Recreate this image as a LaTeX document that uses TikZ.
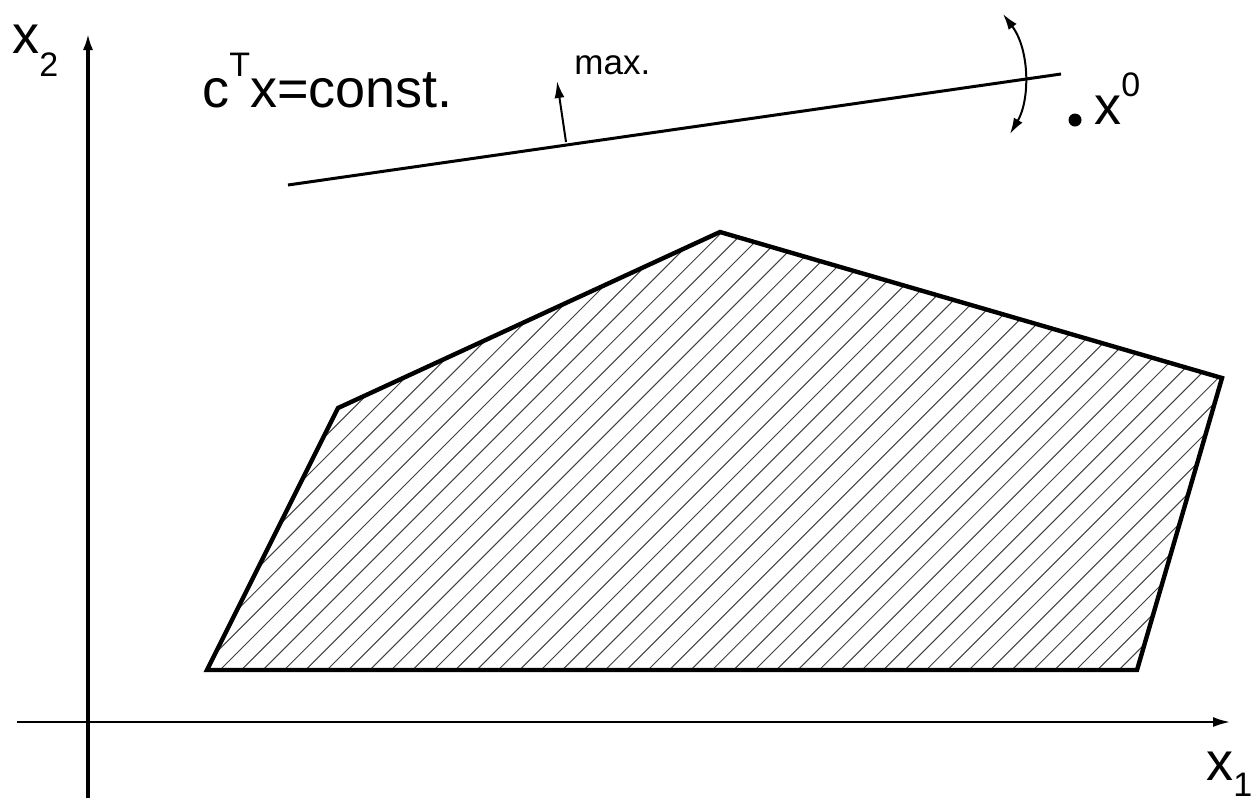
\documentclass[tikz,border=0pt]{standalone}
\usepackage{fontspec}
\setmainfont{Liberation Sans}
\usetikzlibrary{arrows.meta}

\begin{document}
\begin{tikzpicture}[x=0.5pt, y=-0.5pt, lbl/.style={font=\fontsize{27}{30}\selectfont, inner sep=0pt, anchor=base west}, small/.style={font=\fontsize{17.5}{20}\selectfont, inner sep=0pt, anchor=base west}, arr/.style={-{Latex[length=8.5pt,width=5pt]}}, rot/.style={{Latex[length=8pt,width=5pt]}-{Latex[length=8pt,width=5pt]}}, hatch/.style={line width=0.5pt, black!75}]
\useasboundingbox (0,0) rectangle (1257,805);
% axes
\coordinate (xstart) at (17,722);
\coordinate (xend) at (1230,722);
\coordinate (ybot) at (88,798);
\coordinate (ytop) at (88,33);
\draw[arr, line width=1pt] (xstart) -- (xend);
\draw[arr, line width=2pt] (ybot) -- (ytop);
\node[lbl] (xa) at (12,53) {x\raisebox{-11.5pt}{\fontsize{17}{17}\selectfont 2}};
\node[lbl] (xb) at (1206,780) {x\raisebox{-8pt}{\fontsize{17}{17}\selectfont 1}};
% feasible set
\coordinate (p1) at (207,670);
\coordinate (p2) at (1137,670);
\coordinate (p3) at (1222,378);
\coordinate (p4) at (720,232);
\coordinate (p5) at (338,408);
\begin{scope}
\clip (p1) -- (p2) -- (p3) -- (p4) -- (p5) -- cycle;
\foreach \k in {-7,...,43}
  \draw[hatch] ({190+21.4*\k},700) -- ({690+21.4*\k},200);
\end{scope}
\draw[line width=2.2pt, line join=miter] (p1) -- (p2) -- (p3) -- (p4) -- (p5) -- cycle;
% objective
\coordinate (l1) at (288,185);
\coordinate (l2) at (1061,74);
\draw[line width=1.5pt] (l1) -- (l2);
\coordinate (mb) at (566,142);
\coordinate (mt) at (557,81);
\draw[arr, line width=1pt] (mb) -- (mt);
\node[small] (mx) at (574,74) {max.};
\node[lbl] (obj) at (202,107) {c\raisebox{15.5pt}{\fontsize{17}{17}\selectfont T}x=const.};
\coordinate (rt) at (1003,14);
\coordinate (rb) at (1010,134);
\draw[rot, line width=1pt] (rt) .. controls (1030,50) and (1030,100) .. (rb);
% start point
\node[circle, fill, inner sep=0pt, minimum size=6.5pt] (x0) at (1075,120) {};
\node[lbl] (x0lab) at (1094,124) {x\raisebox{14pt}{\fontsize{17}{17}\selectfont 0}};
\end{tikzpicture}
\end{document}
